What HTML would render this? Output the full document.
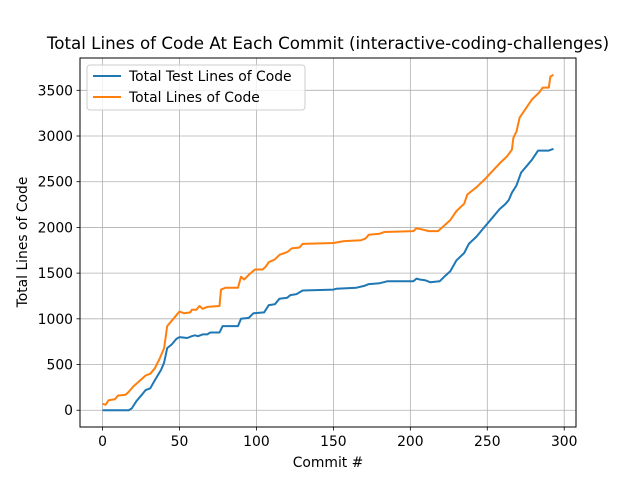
<!DOCTYPE html>
<html><head><meta charset="utf-8"><style>
body{margin:0;background:#fff;}
svg{font-family:"DejaVu Sans","Liberation Sans",sans-serif;}
</style></head><body>
<svg id="chart" width="640" height="480" xmlns="http://www.w3.org/2000/svg"></svg>
<script>
const xTicks=[0,50,100,150,200,250,300];
const yTicks=[0,500,1000,1500,2000,2500,3000,3500];
const testX=[0,17,19,22,26,28,31,34,38,40,42,45,48,50,55,58,60,62,65,68,70,76,78,88,90,95,98,105,108,112,115,120,122,126,130,150,152,165,170,173,180,185,202,204,206,210,213,219,222,226,230,235,238,243,248,253,258,262,264,266,269,272,276,279,283,290,293];
const testY=[0,0,20,100,180,220,240,330,440,520,680,720,780,800,790,810,820,810,830,830,850,850,920,920,1000,1010,1060,1070,1150,1160,1220,1230,1260,1270,1310,1320,1330,1340,1360,1380,1390,1410,1410,1440,1430,1420,1400,1410,1460,1520,1640,1720,1820,1900,2000,2100,2200,2260,2300,2380,2460,2600,2680,2740,2840,2840,2860];
const totalX=[0,2,4,8,10,15,17,20,24,28,31,34,37,40,42,45,48,50,53,57,58,61,63,65,68,76,77,80,88,90,92,95,99,104,106,108,112,115,120,123,128,130,150,157,168,171,173,180,183,202,204,207,212,218,222,226,230,235,237,243,248,253,258,263,266,267,269,271,275,279,284,286,290,291,293];
const totalY=[70,60,110,120,160,170,200,260,320,380,400,460,560,680,920,980,1040,1080,1060,1070,1100,1100,1140,1110,1130,1140,1320,1340,1340,1460,1430,1480,1540,1540,1570,1620,1650,1700,1730,1770,1780,1820,1830,1850,1860,1880,1920,1930,1950,1960,1990,1980,1960,1960,2020,2080,2180,2260,2360,2440,2520,2610,2700,2780,2850,2980,3050,3200,3300,3400,3480,3530,3530,3650,3670];

const L=80,R=576,T=58,B=427;
const xmin=-14.65,xmax=307.65,ymin=-183.5,ymax=3853.5;
const sx=v=>L+(v-xmin)/(xmax-xmin)*(R-L);
const sy=v=>B-(v-ymin)/(ymax-ymin)*(B-T);
const svg=document.getElementById('chart');
const NS='http://www.w3.org/2000/svg';
function mk(tag,attrs,text){const e=document.createElementNS(NS,tag);for(const k in attrs)e.setAttribute(k,attrs[k]);if(text!==undefined)e.textContent=text;svg.appendChild(e);return e;}

xTicks.forEach(t=>{const x=sx(t);
 const g=mk('line',{x1:x,x2:x,y1:T,y2:B,stroke:'#b0b0b0','stroke-width':0.8});
 
 
 mk('line',{x1:x,x2:x,y1:B,y2:B+3.5,stroke:'#000','stroke-width':0.8});
 const l=mk('text',{x:x,y:B+19,'font-size':'13.9','text-anchor':'middle',fill:'#000'},t);
 
 
});
yTicks.forEach(t=>{const y=sy(t);
 const g=mk('line',{x1:L,x2:R,y1:y,y2:y,stroke:'#b0b0b0','stroke-width':0.8});
 
 
 mk('line',{x1:L-3.5,x2:L,y1:y,y2:y,stroke:'#000','stroke-width':0.8});
 const l=mk('text',{x:L-7,y:y+5,'font-size':'13.9','text-anchor':'end',fill:'#000'},t);
 
 
});
function series(xs,ys,color,name){
 const d=xs.map((x,i)=>(i?'L':'M')+sx(x).toFixed(1)+','+sy(ys[i]).toFixed(1)).join('');
 const p=mk('path',{d:d,fill:'none',stroke:color,'stroke-width':2,'stroke-linejoin':'round'});
 
 
}
series(testX,testY,'#1f77b4','test-lines-series');
series(totalX,totalY,'#ff7f0e','total-lines-series');
const frame=mk('rect',{x:L,y:T,width:R-L,height:B-T,fill:'none',stroke:'#000','stroke-width':1});


const title=mk('text',{x:328,y:49,'font-size':'16.7','text-anchor':'middle',fill:'#000'},'Total Lines of Code At Each Commit (interactive-coding-challenges)');


const xt=mk('text',{x:328,y:467,'font-size':'13.9','text-anchor':'middle',fill:'#000'},'Commit #');


const yt=mk('text',{x:27,y:242,'font-size':'13.9','text-anchor':'middle',fill:'#000',transform:'rotate(-90 27 242)'},'Total Lines of Code');


const lg=mk('rect',{x:87,y:65,width:218,height:45,rx:3,fill:'#fff','fill-opacity':0.8,stroke:'#ccc','stroke-width':1});


[['Total Test Lines of Code','#1f77b4',76],['Total Lines of Code','#ff7f0e',97]].forEach(([t,c,y],i)=>{
 mk('line',{x1:93,x2:121,y1:y,y2:y,stroke:c,'stroke-width':2});
 const e=mk('text',{x:129,y:y+5,'font-size':'13.9',fill:'#000'},t);
 
 
});
</script>
</body></html>
